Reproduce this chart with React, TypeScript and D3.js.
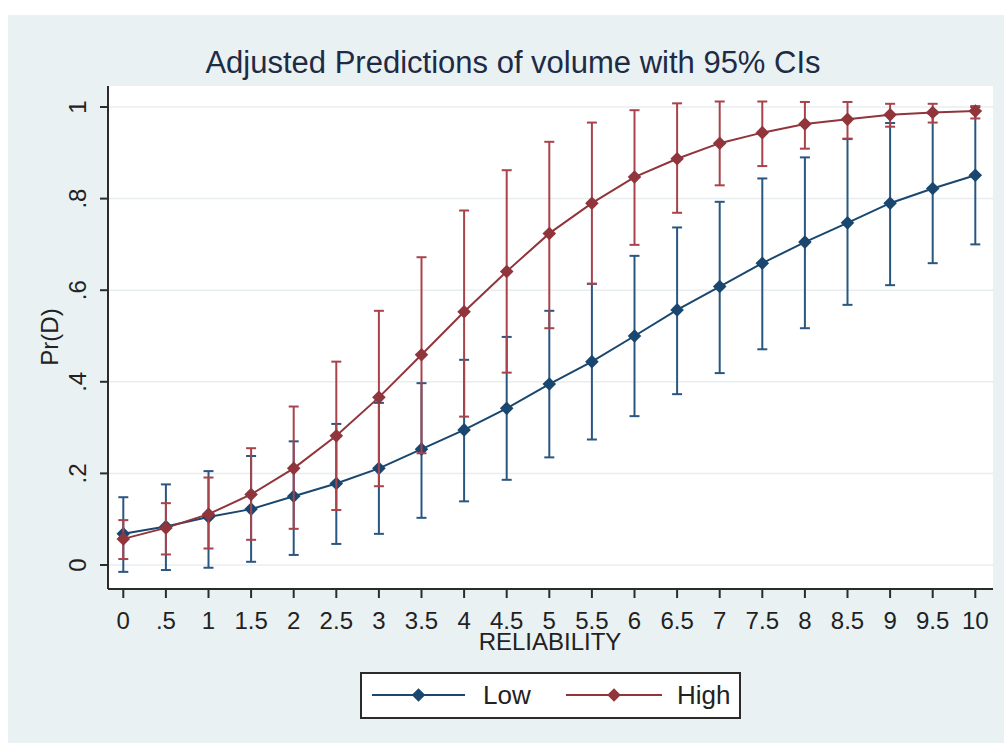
import * as d3 from 'd3';

const W = 1004;
const H = 743;
const FONT = '"Liberation Sans", Arial, sans-serif';

const reliability = [0, 0.5, 1, 1.5, 2, 2.5, 3, 3.5, 4, 4.5, 5, 5.5, 6, 6.5, 7, 7.5, 8, 8.5, 9, 9.5, 10];
const xTickLabels = ['0', '.5', '1', '1.5', '2', '2.5', '3', '3.5', '4', '4.5', '5', '5.5', '6', '6.5', '7', '7.5', '8', '8.5', '9', '9.5', '10'];
const yTicks = [0, 0.2, 0.4, 0.6, 0.8, 1];
const yTickLabels = ['0', '.2', '.4', '.6', '.8', '1'];

const lowPred = [0.068, 0.084, 0.105, 0.122, 0.15, 0.178, 0.211, 0.253, 0.295, 0.342, 0.395, 0.444, 0.5, 0.557, 0.608, 0.659, 0.705, 0.747, 0.79, 0.822, 0.851];
const lowUpper = [0.148, 0.176, 0.205, 0.238, 0.27, 0.308, 0.354, 0.397, 0.448, 0.498, 0.555, 0.614, 0.675, 0.737, 0.793, 0.844, 0.89, 0.93, 0.965, 0.985, 1.0];
const lowLower = [-0.015, -0.011, -0.006, 0.007, 0.022, 0.046, 0.068, 0.103, 0.139, 0.186, 0.235, 0.274, 0.325, 0.373, 0.419, 0.471, 0.517, 0.568, 0.611, 0.659, 0.7];

const highPred = [0.057, 0.081, 0.111, 0.154, 0.211, 0.282, 0.366, 0.459, 0.553, 0.641, 0.724, 0.79, 0.847, 0.887, 0.921, 0.944, 0.963, 0.973, 0.983, 0.988, 0.991];
const highUpper = [0.098, 0.135, 0.191, 0.255, 0.346, 0.444, 0.555, 0.672, 0.774, 0.862, 0.924, 0.966, 0.993, 1.008, 1.012, 1.012, 1.011, 1.011, 1.007, 1.007, 1.002];
const highLower = [0.013, 0.023, 0.036, 0.055, 0.079, 0.12, 0.172, 0.244, 0.324, 0.42, 0.517, 0.614, 0.699, 0.769, 0.829, 0.871, 0.909, 0.931, 0.957, 0.966, 0.975];

const PLOT = { left: 108, right: 993, top: 86, bottom: 589 };

const x = d3.scaleLinear().domain([0, 10]).range([123.3, 975.3]);
const y = d3.scaleLinear().domain([0, 1]).range([565, 107]);

// stata diamond = square turned 45deg
const diamond = d3.symbol().type(d3.symbolSquare).size(92)();

const series = [
  { name: 'Low', color: '#1a476f', bar: '#2a5680', pred: lowPred, lo: lowLower, hi: lowUpper },
  { name: 'High', color: '#90353b', bar: '#a8434b', pred: highPred, lo: highLower, hi: highUpper },
];

function Series({ s }: { s: (typeof series)[number] }) {
  const line = d3
    .line<number>()
    .x((_, i) => x(reliability[i]))
    .y((d) => y(d));
  return (
    <g>
      {reliability.map((r, i) => (
        <g key={r} stroke={s.bar} strokeWidth={2}>
          <line x1={x(r)} x2={x(r)} y1={y(s.lo[i])} y2={y(s.hi[i])} />
          <line x1={x(r) - 5} x2={x(r) + 5} y1={y(s.lo[i])} y2={y(s.lo[i])} />
          <line x1={x(r) - 5} x2={x(r) + 5} y1={y(s.hi[i])} y2={y(s.hi[i])} />
        </g>
      ))}
      <path d={line(s.pred) ?? ''} fill="none" stroke={s.color} strokeWidth={2} />
      {reliability.map((r, i) => (
        <path
          key={r}
          d={diamond}
          fill={s.color}
          transform={`translate(${x(r)},${y(s.pred[i])}) rotate(45)`}
        />
      ))}
    </g>
  );
}

export default function App() {
  const legendY = 695;
  const legendItems = [
    { s: series[0], x1: 372, x2: 465, tx: 483 },
    { s: series[1], x1: 566, x2: 662, tx: 677 },
  ];
  return (
    <svg
      width={W}
      height={H}
      style={{ position: 'absolute', left: 0, top: 0, fontFamily: FONT }}
    >
      <rect x={0} y={0} width={W} height={H} fill="#ffffff" />
      <rect x={8} y={15} width={W - 8} height={H - 15} fill="#e9f1f3" />

      <text x={513} y={73} textAnchor="middle" fontSize={31} fill="#1e2b45">
        Adjusted Predictions of volume with 95% CIs
      </text>

      <rect
        x={PLOT.left}
        y={PLOT.top}
        width={PLOT.right - PLOT.left}
        height={PLOT.bottom - PLOT.top}
        fill="#ffffff"
      />

      {yTicks.map((t) => (
        <line
          key={t}
          x1={PLOT.left}
          x2={PLOT.right}
          y1={y(t)}
          y2={y(t)}
          stroke="#e8eef0"
          strokeWidth={1.5}
        />
      ))}

      {series.map((s) => (
        <Series key={s.name} s={s} />
      ))}

      {/* axes */}
      <line x1={PLOT.left} x2={PLOT.left} y1={PLOT.top} y2={PLOT.bottom} stroke="#2b2b2b" strokeWidth={2} />
      <line x1={PLOT.left} x2={PLOT.right} y1={PLOT.bottom} y2={PLOT.bottom} stroke="#2b2b2b" strokeWidth={2} />

      {yTicks.map((t, i) => (
        <g key={t}>
          <line x1={PLOT.left - 8} x2={PLOT.left} y1={y(t)} y2={y(t)} stroke="#2b2b2b" strokeWidth={2} />
          <text
            transform={`translate(78,${y(t)}) rotate(-90)`}
            textAnchor="middle"
            dy="0.35em"
            fontSize={24}
            fill="#222"
          >
            {yTickLabels[i]}
          </text>
        </g>
      ))}

      {reliability.map((r, i) => (
        <g key={r}>
          <line x1={x(r)} x2={x(r)} y1={PLOT.bottom} y2={PLOT.bottom + 9} stroke="#2b2b2b" strokeWidth={2} />
          <text x={x(r)} y={629} textAnchor="middle" fontSize={24} fill="#222">
            {xTickLabels[i]}
          </text>
        </g>
      ))}

      <text x={550} y={650} textAnchor="middle" fontSize={24} fill="#222">
        RELIABILITY
      </text>
      <text transform="translate(50,337) rotate(-90)" textAnchor="middle" dy="0.35em" fontSize={24} fill="#222">
        Pr(D)
      </text>

      {/* legend */}
      <rect x={361} y={673} width={379} height={45} fill="#ffffff" stroke="#2b2b2b" strokeWidth={2} />
      {legendItems.map(({ s, x1, x2, tx }) => (
        <g key={s.name}>
          <line x1={x1} x2={x2} y1={legendY} y2={legendY} stroke={s.color} strokeWidth={2} />
          <path d={diamond} fill={s.color} transform={`translate(${(x1 + x2) / 2},${legendY}) rotate(45)`} />
          <text x={tx} y={704} fontSize={26} fill="#222">
            {s.name}
          </text>
        </g>
      ))}
    </svg>
  );
}
